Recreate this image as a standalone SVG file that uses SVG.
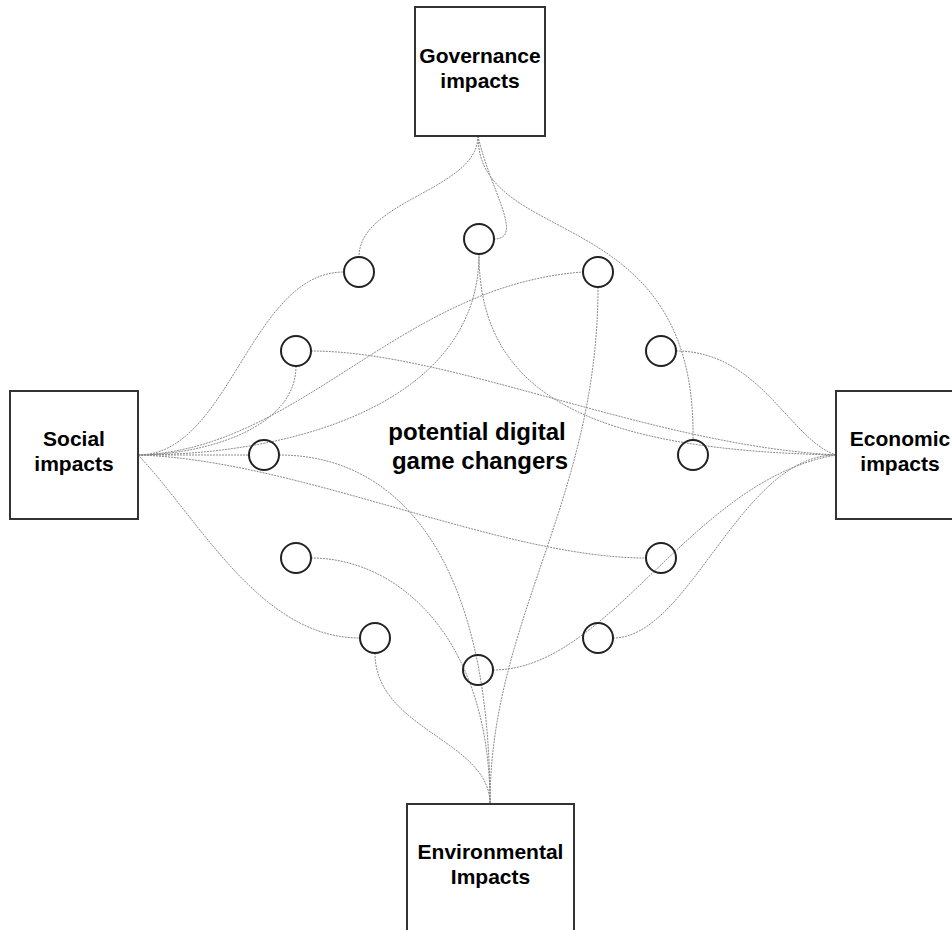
<svg xmlns="http://www.w3.org/2000/svg" width="952" height="930" viewBox="0 0 952 930">
<style>
.box{fill:#fff;stroke:#333;stroke-width:2}
.gc{fill:none;stroke:#222;stroke-width:2}
.lbl{font-family:"Liberation Sans",Arial,sans-serif;font-weight:bold;font-size:21px;fill:#000;text-anchor:middle}
.title{font-family:"Liberation Sans",Arial,sans-serif;font-weight:bold;font-size:24px;fill:#000;text-anchor:middle}
#connectors path{fill:none;stroke:#8a8a8a;stroke-width:1;stroke-dasharray:2 1}
</style>
<rect width="952" height="930" fill="#fff"/>
<g id="connectors">
<path d="M478,136 C478,190 359,200 359,257"/>
<path d="M478,136 C490,190 525,239 494,239"/>
<path d="M478,136 C478,250 697,200 693,440"/>
<path d="M138,455 C230,455 250,272 344,272"/>
<path d="M296,366 C296,430 200,455 138,455"/>
<path d="M311,351 C450,351 650,445 836,455"/>
<path d="M138,455 C300,450 400,285 583,272"/>
<path d="M138,455 C300,455 479,400 479,254"/>
<path d="M479,254 C479,400 600,450 836,455"/>
<path d="M598,287 C598,500 490,620 490,804"/>
<path d="M676,351 C760,351 790,440 836,455"/>
<path d="M138,455 L249,455"/>
<path d="M279,455 C400,455 490,560 490,804"/>
<path d="M311,558 C400,558 490,640 490,804"/>
<path d="M375,653 C375,730 490,740 490,804"/>
<path d="M138,455 C200,520 260,638 360,638"/>
<path d="M138,455 C300,460 500,558 646,558"/>
<path d="M493,670 C610,670 690,480 836,455"/>
<path d="M613,638 C690,638 740,455 836,455"/>
</g>
<g id="governance"><rect class="box" x="415" y="7" width="130" height="129"/><text class="lbl" x="480" y="63">Governance</text><text class="lbl" x="480" y="88">impacts</text></g>
<g id="social"><rect class="box" x="10" y="391" width="128" height="128"/><text class="lbl" x="74" y="446">Social</text><text class="lbl" x="74" y="471">impacts</text></g>
<g id="economic"><rect class="box" x="836" y="391" width="128" height="128"/><text class="lbl" x="900" y="446">Economic</text><text class="lbl" x="900" y="471">impacts</text></g>
<g id="environmental"><rect class="box" x="407" y="804" width="167" height="140"/><text class="lbl" x="490.5" y="859">Environmental</text><text class="lbl" x="490.5" y="884">Impacts</text></g>
<g id="gc1"><circle class="gc" cx="359" cy="272" r="15"/></g>
<g id="gc2"><circle class="gc" cx="479" cy="239" r="15"/></g>
<g id="gc3"><circle class="gc" cx="598" cy="272" r="15"/></g>
<g id="gc4"><circle class="gc" cx="296" cy="351" r="15"/></g>
<g id="gc5"><circle class="gc" cx="661" cy="351" r="15"/></g>
<g id="gc6"><circle class="gc" cx="264" cy="455" r="15"/></g>
<g id="gc7"><circle class="gc" cx="693" cy="455" r="15"/></g>
<g id="gc8"><circle class="gc" cx="296" cy="558" r="15"/></g>
<g id="gc9"><circle class="gc" cx="661" cy="558" r="15"/></g>
<g id="gc10"><circle class="gc" cx="375" cy="638" r="15"/></g>
<g id="gc11"><circle class="gc" cx="598" cy="638" r="15"/></g>
<g id="gc12"><circle class="gc" cx="478" cy="670" r="15"/></g>
<g id="center-label"><text class="title" x="477" y="440">potential digital</text><text class="title" x="480" y="469">game changers</text></g>
</svg>
